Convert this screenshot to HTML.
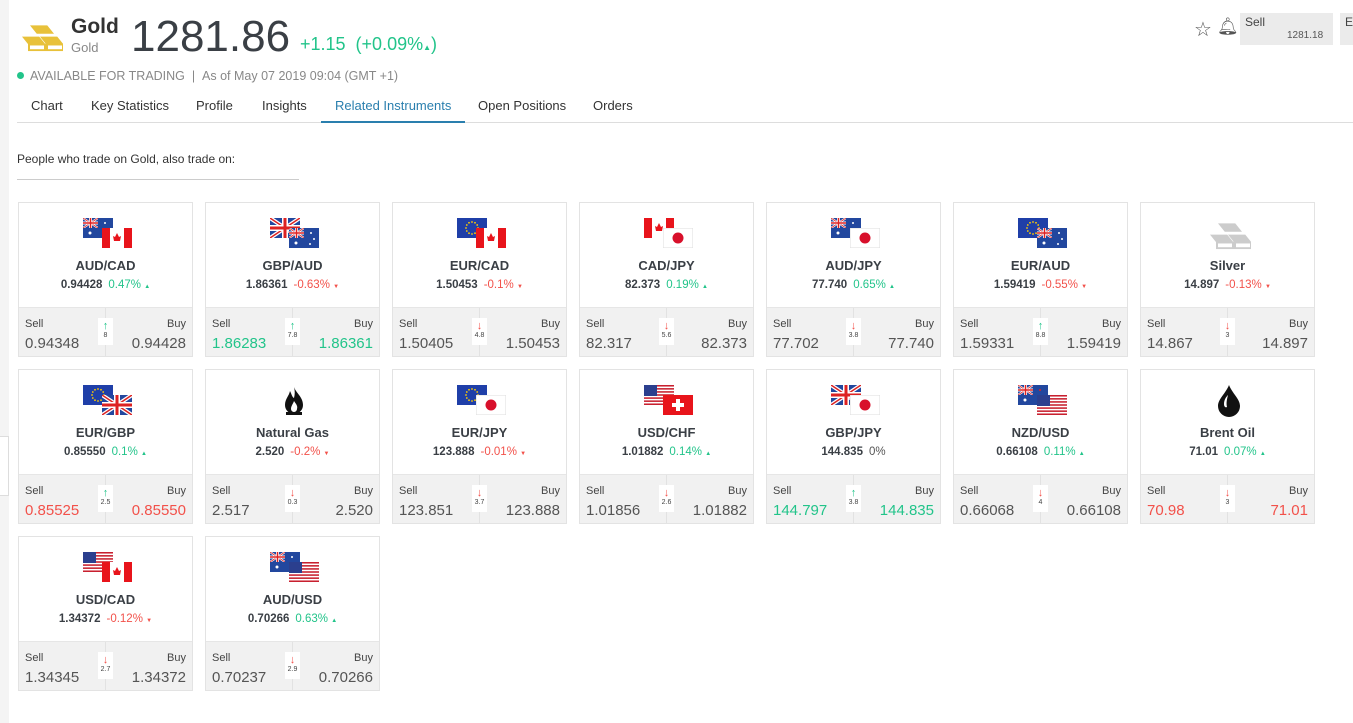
<!DOCTYPE html>
<html><head><meta charset="utf-8">
<style>
*{box-sizing:border-box;margin:0;padding:0}
body{width:1353px;height:723px;overflow:hidden;background:#fff;font-family:"Liberation Sans",sans-serif;color:#333;position:relative}
.a{position:absolute;white-space:nowrap}
.card{position:absolute;width:175px;height:155px;border:1px solid #e3e3e3;background:#fff}
.card .bot{position:absolute;left:0;right:0;top:104px;bottom:0;background:#f1f1f1;border-top:1px solid #e6e6e6}
.card .bot .mid{position:absolute;left:86px;top:0;bottom:0;width:1px;background:#e2e2e2}
.nm{position:absolute;left:0;right:0;top:55px;text-align:center;font-weight:bold;font-size:13px;color:#3a3f45}
.pr{position:absolute;left:0;right:0;top:76px;text-align:center;font-size:11.5px}
.pr b{color:#3a3f45;margin-right:6px}
.g{color:#22c48a}.r{color:#f2514a}
.sl{position:absolute;left:6px;top:10px;font-size:11px;color:#444}
.by{position:absolute;right:6px;top:10px;font-size:11px;color:#444}
.sv{position:absolute;left:6px;top:27px;font-size:15px;color:#555}
.bv{position:absolute;right:6px;top:27px;font-size:15px;color:#555}
.sp{position:absolute;left:79px;top:10px;width:15px;height:27px;background:#fff;text-align:center;font-size:7px;color:#444;line-height:8px;padding-top:2px}
.sp i{display:block;font-style:normal;font-size:11px;line-height:12px;font-weight:bold}
.flags{position:absolute;left:0;right:0;top:15px;height:32px}
.f{position:absolute;width:30px;height:20px;overflow:hidden}
</style></head><body>
<div style="position:absolute;left:0;top:0;width:9px;height:723px;background:#f4f4f4"></div>
<div style="position:absolute;left:0;top:436px;width:9px;height:60px;border:1px solid #ddd;border-left:none;background:#fff"></div>
<svg class="a" style="left:19px;top:24px" width="44" height="28" viewBox="0 0 44 30" preserveAspectRatio="none"><g fill="#e8c13a" stroke="#e8c13a"><polygon points="12,2 28,2 34,10 18,10"/><polygon points="4,14 20,14 26,22 10,22"/><polygon points="22,14 38,14 44,22 28,22"/><rect x="10" y="22" width="16" height="6" fill="#fff" stroke-width="2"/><rect x="28" y="22" width="16" height="6" fill="#fff" stroke-width="2"/></g></svg>
<div class="a" style="left:71px;top:15px;font-size:21px;font-weight:bold;color:#333">Gold</div>
<div class="a" style="left:71px;top:40px;font-size:13px;color:#888">Gold</div>
<div class="a" style="left:131px;top:12px;font-size:44px;color:#3a3f45">1281.86</div>
<div class="a" style="left:300px;top:34px;font-size:18px;color:#22c48a">+1.15 &nbsp;(+0.09%<span style="font-size:8px">▲</span>)</div>
<div class="a" style="left:17px;top:72px;width:7px;height:7px;border-radius:50%;background:#22c48a"></div>
<div class="a" style="left:30px;top:69px;font-size:12.5px;color:#888">AVAILABLE FOR TRADING &nbsp;| &nbsp;As of May 07 2019 09:04 (GMT +1)</div>
<div class="a" style="left:31px;top:98px;font-size:13px;color:#333">Chart</div>
<div class="a" style="left:91px;top:98px;font-size:13px;color:#333">Key Statistics</div>
<div class="a" style="left:196px;top:98px;font-size:13px;color:#333">Profile</div>
<div class="a" style="left:262px;top:98px;font-size:13px;color:#333">Insights</div>
<div class="a" style="left:335px;top:98px;font-size:13px;color:#2a7fae">Related Instruments</div>
<div class="a" style="left:478px;top:98px;font-size:13px;color:#333">Open Positions</div>
<div class="a" style="left:593px;top:98px;font-size:13px;color:#333">Orders</div>
<div class="a" style="left:17px;top:122px;width:1336px;height:1px;background:#ddd"></div>
<div class="a" style="left:321px;top:121px;width:144px;height:2px;background:#2a7fae"></div>
<div class="a" style="left:17px;top:152px;font-size:12px;color:#333">People who trade on Gold, also trade on:</div>
<div class="a" style="left:17px;top:179px;width:282px;height:1px;background:#ccc"></div>
<div class="a" style="left:1194px;top:17px;font-size:20px;color:#555">☆</div>
<div class="a" style="left:1217px;top:17px;font-size:17px;color:#555">🔔︎</div>
<div class="a" style="left:1240px;top:13px;width:93px;height:32px;background:#ebebeb"></div>
<div class="a" style="left:1245px;top:15px;font-size:12px;color:#444">Sell</div>
<div class="a" style="left:1287px;top:30px;font-size:10px;color:#555">1281.18</div>
<div class="a" style="left:1340px;top:13px;width:13px;height:32px;background:#ebebeb"></div>
<div class="a" style="left:1345px;top:15px;font-size:12px;color:#444">E</div>
<div id="c"></div>
<script>
function fl(t){
 var uj='<svg width="30" height="20" viewBox="0 0 30 20"><rect width="30" height="20" fill="#22479e"/>';
 var jack='<path d="M0 0L30 20M30 0L0 20" stroke="#fff" stroke-width="4"/><path d="M0 0L30 20M30 0L0 20" stroke="#d22" stroke-width="1.5"/><path d="M15 0V20M0 10H30" stroke="#fff" stroke-width="6"/><path d="M15 0V20M0 10H30" stroke="#d22" stroke-width="3"/>';
 if(t=='GB')return uj+jack+'</svg>';
 if(t=='AU'||t=='NZ')return uj+'<svg x="0" y="0" width="15" height="10" viewBox="0 0 30 20">'+jack+'</svg><circle cx="7" cy="15" r="1.5" fill="#fff"/><circle cx="22" cy="5" r="1" fill="'+(t=='NZ'?'#d22':'#fff')+'"/><circle cx="25" cy="11" r="1" fill="'+(t=='NZ'?'#d22':'#fff')+'"/><circle cx="21" cy="16" r="1" fill="'+(t=='NZ'?'#d22':'#fff')+'"/></svg>';
 if(t=='CA')return '<svg width="30" height="20"><rect width="30" height="20" fill="#fff"/><rect width="8" height="20" fill="#e8141b"/><rect x="22" width="8" height="20" fill="#e8141b"/><path d="M15 5L17 9L19 8L18 13H12L11 8L13 9Z" fill="#e8141b"/></svg>';
 if(t=='EU'){var s='<svg width="30" height="20"><rect width="30" height="20" fill="#1f3fa8"/>';for(var i=0;i<12;i++){var a=i*Math.PI/6;s+='<circle cx="'+(15+6*Math.cos(a))+'" cy="'+(10+6*Math.sin(a))+'" r="0.9" fill="#fc0"/>';}return s+'</svg>';}
 if(t=='JP')return '<svg width="30" height="20"><rect width="30" height="20" fill="#fff" stroke="#ddd"/><circle cx="15" cy="10" r="5.5" fill="#d8102b"/></svg>';
 if(t=='US'){var s='<svg width="30" height="20"><rect width="30" height="20" fill="#fff"/>';for(var i=0;i<7;i++)s+='<rect y="'+(i*20/6.5)+'" width="30" height="1.55" fill="#c8202f"/>';return s+'<rect width="13" height="11" fill="#2b3f8e"/></svg>';}
 if(t=='CH')return '<svg width="30" height="20"><rect width="30" height="20" fill="#e8141b"/><path d="M15 4V16M9 10H21" stroke="#fff" stroke-width="4"/></svg>';
}
var D=[
['AUD/CAD','0.94428','0.47%',1,'AU','CA','0.94348','0.94428','8',1,0],
['GBP/AUD','1.86361','-0.63%',0,'GB','AU','1.86283','1.86361','7.8',1,'g'],
['EUR/CAD','1.50453','-0.1%',0,'EU','CA','1.50405','1.50453','4.8',0,0],
['CAD/JPY','82.373','0.19%',1,'CA','JP','82.317','82.373','5.6',0,0],
['AUD/JPY','77.740','0.65%',1,'AU','JP','77.702','77.740','3.8',0,0],
['EUR/AUD','1.59419','-0.55%',0,'EU','AU','1.59331','1.59419','8.8',1,0],
['Silver','14.897','-0.13%',0,'silver',0,'14.867','14.897','3',0,0],
['EUR/GBP','0.85550','0.1%',1,'EU','GB','0.85525','0.85550','2.5',1,'r'],
['Natural Gas','2.520','-0.2%',0,'gas',0,'2.517','2.520','0.3',0,0],
['EUR/JPY','123.888','-0.01%',0,'EU','JP','123.851','123.888','3.7',0,0],
['USD/CHF','1.01882','0.14%',1,'US','CH','1.01856','1.01882','2.6',0,0],
['GBP/JPY','144.835','0%',2,'GB','JP','144.797','144.835','3.8',1,'g'],
['NZD/USD','0.66108','0.11%',1,'NZ','US','0.66068','0.66108','4',0,0],
['Brent Oil','71.01','0.07%',1,'oil',0,'70.98','71.01','3',0,'r'],
['USD/CAD','1.34372','-0.12%',0,'US','CA','1.34345','1.34372','2.7',0,0],
['AUD/USD','0.70266','0.63%',1,'AU','US','0.70237','0.70266','2.9',0,0]];
var h='';
D.forEach(function(d,i){
 var x=18+(i%7)*187,y=202+Math.floor(i/7)*167;
 var ic='';
 if(d[5])ic='<div class="f" style="left:64px;top:0">'+fl(d[4])+'</div><div class="f" style="left:83px;top:10px">'+fl(d[5])+'</div>';
 else if(d[4]=='silver')ic='<svg style="position:absolute;left:66px;top:4px" width="44" height="28" viewBox="0 0 44 30" preserveAspectRatio="none"><g fill="#ccc" stroke="#ccc"><polygon points="12,2 28,2 34,10 18,10"/><polygon points="4,14 20,14 26,22 10,22"/><polygon points="22,14 38,14 44,22 28,22"/><rect x="10" y="22" width="16" height="6" fill="#fff" stroke-width="2"/><rect x="28" y="22" width="16" height="6" fill="#fff" stroke-width="2"/></g></svg>';
 else if(d[4]=='gas')ic='<svg style="position:absolute;left:78px;top:2px" width="20" height="28" viewBox="0 0 20 28"><path d="M10 0C12 6 19 10 19 18A9 9 0 0 1 1 18C1 12 5 9 6 4C8 8 8 10 10 11C11 7 11 4 10 0Z" fill="#111"/><path d="M10 14C12 17 14 19 13 22A3 3 0 0 1 7 22C7 19 9 17 10 14Z" fill="#fff"/><rect x="2" y="25" width="16" height="3" fill="#111"/></svg>';
 else ic='<svg style="position:absolute;left:77px;top:0" width="22" height="32" viewBox="0 0 22 32"><path d="M11 0C14 8 22 14 22 21A11 11 0 0 1 0 21C0 14 8 8 11 0Z" fill="#111"/><path d="M6 19C6 15 8 12 10 10C9 14 8 18 9 22C7 23 6 21 6 19Z" fill="#fff"/></svg>';
 var cc=d[3]==1?'g':(d[3]==0?'r':''),tri=d[3]==1?'▲':(d[3]==0?'▼':'');
 var vc=d[10]=='g'?'color:#22c48a':(d[10]=='r'?'color:#f2514a':'');
 h+='<div class="card" style="left:'+x+'px;top:'+y+'px"><div class="flags">'+ic+'</div><div class="nm">'+d[0]+'</div><div class="pr"><b>'+d[1]+'</b><span class="'+cc+'" style="'+(cc?'':'color:#555')+'">'+d[2]+' <span style="font-size:6px">'+tri+'</span></span></div>'+
 '<div class="bot"><div class="mid"></div><div class="sl">Sell</div><div class="by">Buy</div><div class="sv" style="'+vc+'">'+d[6]+'</div><div class="bv" style="'+vc+'">'+d[7]+'</div><div class="sp"><i class="'+(d[9]?'g':'r')+'">'+(d[9]?'↑':'↓')+'</i>'+d[8]+'</div></div></div>';
});
document.getElementById('c').innerHTML=h;
</script>
</body></html>
